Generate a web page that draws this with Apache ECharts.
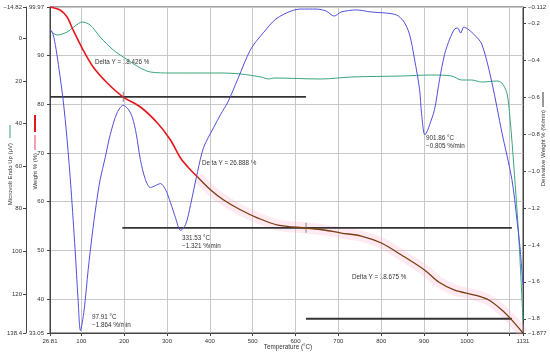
<!DOCTYPE html>
<html><head><meta charset="utf-8">
<script src="https://cdn.jsdelivr.net/npm/echarts@6/dist/echarts.min.js"></script>
<style>html,body{margin:0;padding:0;background:#fff}#c{width:550px;height:352px}</style>
</head><body><div id="c"></div>
<script>
// ---- tick values / labels ----
const xTicks = [26.81, 100, 200, 300, 400, 500, 600, 700, 800, 900, 1000, 1100, 1131];
const xLabels = ['26.81', '100', '200', '300', '400', '500', '600', '700', '800', '900', '1000', '', '1131'];
const weightTicks = [33.05, 40, 50, 60, 70, 80, 90, 99.97];
const weightLabels = ['33.05', '40', '50', '60', '70', '80', '90', '99.97'];
const dtaTicks = [-14.82, 0, 20, 40, 60, 80, 100, 120, 138.4];
const dtaLabels = ['\u221214.82', '0', '20', '40', '60', '80', '100', '120', '138.4'];
const derivTicks = [-1.877, -1.8, -1.6, -1.4, -1.2, -1.0, -0.8, -0.6, -0.4, -0.2, -0.112];
const derivLabels = ['\u22121.877', '\u22121.8', '\u22121.6', '\u22121.4', '\u22121.2', '\u22121.0', '\u22120.8', '\u22120.6', '\u22120.4', '\u22120.2', '\u22120.112'];

// ---- weight % (red part then brown part) ----
const redTemp = [26.81, 50.2, 66.7, 80.7, 104.2, 127.6, 160.4, 197.9, 237.8, 277.6, 308.1, 331.5, 355.0, 371.4];
const redWeight = [99.97, 99.35, 97.92, 95.25, 91.14, 87.65, 84.37, 81.49, 79.44, 76.16, 72.67, 68.97, 66.50, 65.07];
const brownTemp = [371.4, 401.9, 432.3, 472.2, 512.0, 558.9, 624.5, 666.7, 706.6, 753.4, 800.3, 847.2, 901.1, 933.9, 971.4, 1018.3, 1051.1, 1081.6, 1105.0, 1131];
const brownWeight = [65.07, 62.40, 60.35, 58.29, 56.65, 55.20, 54.60, 54.19, 53.57, 52.96, 51.52, 49.06, 45.98, 43.52, 41.87, 40.84, 39.82, 37.77, 35.70, 33.05];

// ---- derivative weight (%/min) ----
const derivTemp = [26.8, 33.8, 40.9, 47.9, 57.3, 66.7, 76.0, 85.4, 92.4, 97.91, 106.5, 115.9, 125.3, 134.6, 144.0, 155.7, 167.5, 183.9, 197.9, 209.6, 219.0, 228.4, 237.8, 249.5, 261.2, 272.9, 284.7, 296.4, 308.1, 319.8, 331.53, 343.3, 355.0, 371.4, 385.5, 408.9, 425.3, 441.7, 465.1, 495.6, 526.1, 554.2, 589.4, 612.8, 648.0, 671.4, 690.2, 706.6, 741.7, 776.9, 812.1, 835.5, 851.9, 866.0, 877.7, 889.5, 894.2, 901.86, 908.2, 912.9, 924.6, 936.3, 948.1, 959.8, 971.5, 978.5, 985.6, 992.6, 1002.0, 1016.0, 1034.8, 1058.2, 1081.7, 1105.1, 1116.8, 1123.8, 1131];
const derivValue = [-0.231, -0.259, -0.340, -0.449, -0.612, -0.829, -1.100, -1.426, -1.698, -1.864, -1.752, -1.535, -1.345, -1.182, -1.046, -0.927, -0.802, -0.682, -0.644, -0.666, -0.709, -0.802, -0.938, -1.046, -1.090, -1.079, -1.068, -1.100, -1.171, -1.253, -1.321, -1.291, -1.182, -1.003, -0.872, -0.764, -0.693, -0.628, -0.503, -0.340, -0.248, -0.177, -0.134, -0.123, -0.123, -0.134, -0.161, -0.139, -0.128, -0.139, -0.145, -0.155, -0.188, -0.259, -0.394, -0.557, -0.690, -0.805, -0.780, -0.750, -0.666, -0.503, -0.367, -0.286, -0.231, -0.226, -0.253, -0.221, -0.231, -0.259, -0.313, -0.519, -0.791, -1.046, -1.263, -1.410, -1.616];

// ---- DTA (microvolt) ----
const dtaTemp = [26.8, 43.2, 66.7, 85.4, 101.8, 120.6, 144.0, 174.5, 197.9, 237.8, 261.2, 308.1, 362.0, 425.3, 472.2, 519.1, 537.8, 549.5, 659.7, 730.0, 847.2, 917.5, 964.4, 987.8, 1011.3, 1034.8, 1069.9, 1081.7, 1093.4, 1100.4, 1109.8, 1121.5, 1131];
const dtaValue = [-4.01, -1.66, -3.07, -5.89, -7.77, -6.36, -0.72, 5.39, 8.68, 13.85, 15.73, 16.20, 16.20, 16.20, 16.67, 18.08, 19.02, 18.55, 19.02, 18.08, 17.61, 17.14, 17.61, 19.49, 19.49, 20.43, 19.96, 20.90, 25.60, 36.88, 60.38, 94.69, 132.3];

// ---- step (Delta Y) lines and markers ----
const stepLevel = [81.54, 54.65, 35.98];
const stepStart = [26.81, 195.6, 624.5];
const stepEnd = [624.5, 1105, 1105];
const markerTemp = [197.9, 624.5];
const markerWeight = [81.54, 54.65];

const zip = (a, b) => a.map((v, i) => [v, b[i]]);
const lookup = (ticks, labels) => v => {
  for (let i = 0; i < ticks.length; i++) if (Math.abs(ticks[i] - v) < 1e-6) return labels[i];
  return '';
};
const FONT = 'Liberation Sans';
const axisCol = '#444';
const gridCol = '#c8c8c8';
const TICKFS = 6;
const ANNFS = 6.3;

function yAx(o) {
  return Object.assign({
    type: 'value',
    axisLine: { show: true, lineStyle: { color: axisCol } },
    axisTick: { show: true, length: 3, lineStyle: { color: axisCol }, customValues: o.ticks },
    axisLabel: { customValues: o.ticks, formatter: lookup(o.ticks, o.labels), fontSize: TICKFS, color: '#333', margin: o.margin, fontFamily: FONT },
    splitLine: { show: false }
  }, o.extra);
}

const stepSeries = stepLevel.map((lv, i) => ({
  type: 'line', xAxisIndex: 0, yAxisIndex: 0, silent: true, symbol: 'none',
  data: [[stepStart[i], lv], [stepEnd[i], lv]],
  lineStyle: { color: '#333', width: 1.8 }, z: 3
}));

const option = {
  animation: false,
  backgroundColor: '#fff',
  grid: { left: 50, right: 27, top: 7, bottom: 19, show: true, borderColor: '#444', borderWidth: 1, backgroundColor: 'transparent' },
  xAxis: {
    type: 'value', min: 26.81, max: 1131,
    axisLine: { show: true, onZero: false, lineStyle: { color: axisCol } },
    axisTick: { show: true, length: 3, lineStyle: { color: axisCol }, customValues: xTicks },
    axisLabel: { customValues: xTicks, formatter: lookup(xTicks, xLabels), fontSize: TICKFS, color: '#333', margin: 5, fontFamily: FONT },
    splitLine: { show: true, lineStyle: { color: gridCol, width: 1 } }
  },
  yAxis: [
    yAx({ ticks: weightTicks, labels: weightLabels, margin: 6, extra: { position: 'left', offset: 0, min: 33.05, max: 99.97,
      splitLine: { show: true, lineStyle: { color: gridCol, width: 1 } } } }),
    yAx({ ticks: dtaTicks, labels: dtaLabels, margin: 4, extra: { position: 'left', offset: 24, min: -14.82, max: 138.4, inverse: true } }),
    yAx({ ticks: derivTicks, labels: derivLabels, margin: 5, extra: { position: 'right', offset: 0, min: -1.877, max: -0.112 } })
  ],
  series: [
    { type: 'line', yAxisIndex: 0, symbol: 'none', smooth: 0.3, silent: true,
      data: zip(brownTemp, brownWeight), lineStyle: { color: 'rgba(255,170,200,0.25)', width: 11 }, z: 1 },
    ...stepSeries,
    { type: 'line', yAxisIndex: 1, symbol: 'none', smooth: 0.3, data: zip(dtaTemp, dtaValue),
      lineStyle: { color: '#3aa57a', width: 1 }, z: 4 },
    { type: 'line', yAxisIndex: 2, symbol: 'none', smooth: 0.3, data: zip(derivTemp, derivValue),
      lineStyle: { color: '#5050dc', width: 1 }, z: 4 },
    { type: 'line', yAxisIndex: 0, symbol: 'none', smooth: 0.3, data: zip(redTemp, redWeight),
      lineStyle: { color: '#e8161c', width: 1.6 }, z: 5 },
    { type: 'line', yAxisIndex: 0, symbol: 'none', smooth: 0.3, data: zip(brownTemp, brownWeight),
      lineStyle: { color: '#7a3e12', width: 1.3 }, z: 5 },
    { type: 'scatter', yAxisIndex: 0, symbol: 'rect', symbolSize: [1, 10], silent: true,
      data: zip(markerTemp, markerWeight), itemStyle: { color: '#666' }, z: 6 }
  ],
  graphic: [
    // axis names with legend swatches
    { type: 'line', shape: { x1: 10, y1: 125, x2: 10, y2: 138 }, style: { stroke: '#3aa57a', lineWidth: 1 } },
    { type: 'text', x: 10, y: 143, rotation: Math.PI / 2, style: { text: 'Microvolt Endo Up (\u00b5V)', fontSize: 6, fill: '#333', fontFamily: FONT, align: 'right', verticalAlign: 'middle' } },
    { type: 'line', shape: { x1: 35, y1: 115, x2: 35, y2: 132 }, style: { stroke: '#e8161c', lineWidth: 2 } },
    { type: 'line', shape: { x1: 35, y1: 135, x2: 35, y2: 150 }, style: { stroke: '#f4a0b4', lineWidth: 2 } },
    { type: 'text', x: 35, y: 153, rotation: Math.PI / 2, style: { text: 'Weight % (%)', fontSize: 6, fill: '#333', fontFamily: FONT, align: 'right', verticalAlign: 'middle' } },
    { type: 'line', shape: { x1: 543, y1: 92, x2: 543, y2: 107 }, style: { stroke: '#333', lineWidth: 1 } },
    { type: 'text', x: 543, y: 110, rotation: Math.PI / 2, style: { text: 'Derivative Weight % (%/min)', fontSize: 6, fill: '#333', fontFamily: FONT, align: 'right', verticalAlign: 'middle' } },
    { type: 'text', x: 288, y: 347, style: { text: 'Temperature (\u00b0C)', fontSize: 6.3, fill: '#333', fontFamily: FONT, align: 'center', verticalAlign: 'middle' } },
    // annotations
    { type: 'text', x: 95, y: 62, style: { text: 'Delta Y = 18.426 %', fontSize: ANNFS, fill: '#333', fontFamily: FONT, verticalAlign: 'middle' } },
    { type: 'text', x: 202, y: 163, style: { text: 'Delta Y = 26.888 %', fontSize: ANNFS, fill: '#333', fontFamily: FONT, verticalAlign: 'middle' } },
    { type: 'text', x: 352, y: 277, style: { text: 'Delta Y = 18.675 %', fontSize: ANNFS, fill: '#333', fontFamily: FONT, verticalAlign: 'middle' } },
    { type: 'text', x: 182, y: 234, style: { text: '331.53 \u00b0C\n\u22121.321 %/min', fontSize: ANNFS, lineHeight: 8.5, fill: '#333', fontFamily: FONT, verticalAlign: 'top' } },
    { type: 'text', x: 426, y: 134, style: { text: '901.86 \u00b0C\n\u22120.805 %/min', fontSize: ANNFS, lineHeight: 8.5, fill: '#333', fontFamily: FONT, verticalAlign: 'top' } },
    { type: 'text', x: 92, y: 313, style: { text: '97.91 \u00b0C\n\u22121.864 %/min', fontSize: ANNFS, lineHeight: 8.5, fill: '#333', fontFamily: FONT, verticalAlign: 'top' } }
  ]
};

const chart = echarts.init(document.getElementById('c'), null, { renderer: 'canvas' });
chart.setOption(option);
</script></body></html>
